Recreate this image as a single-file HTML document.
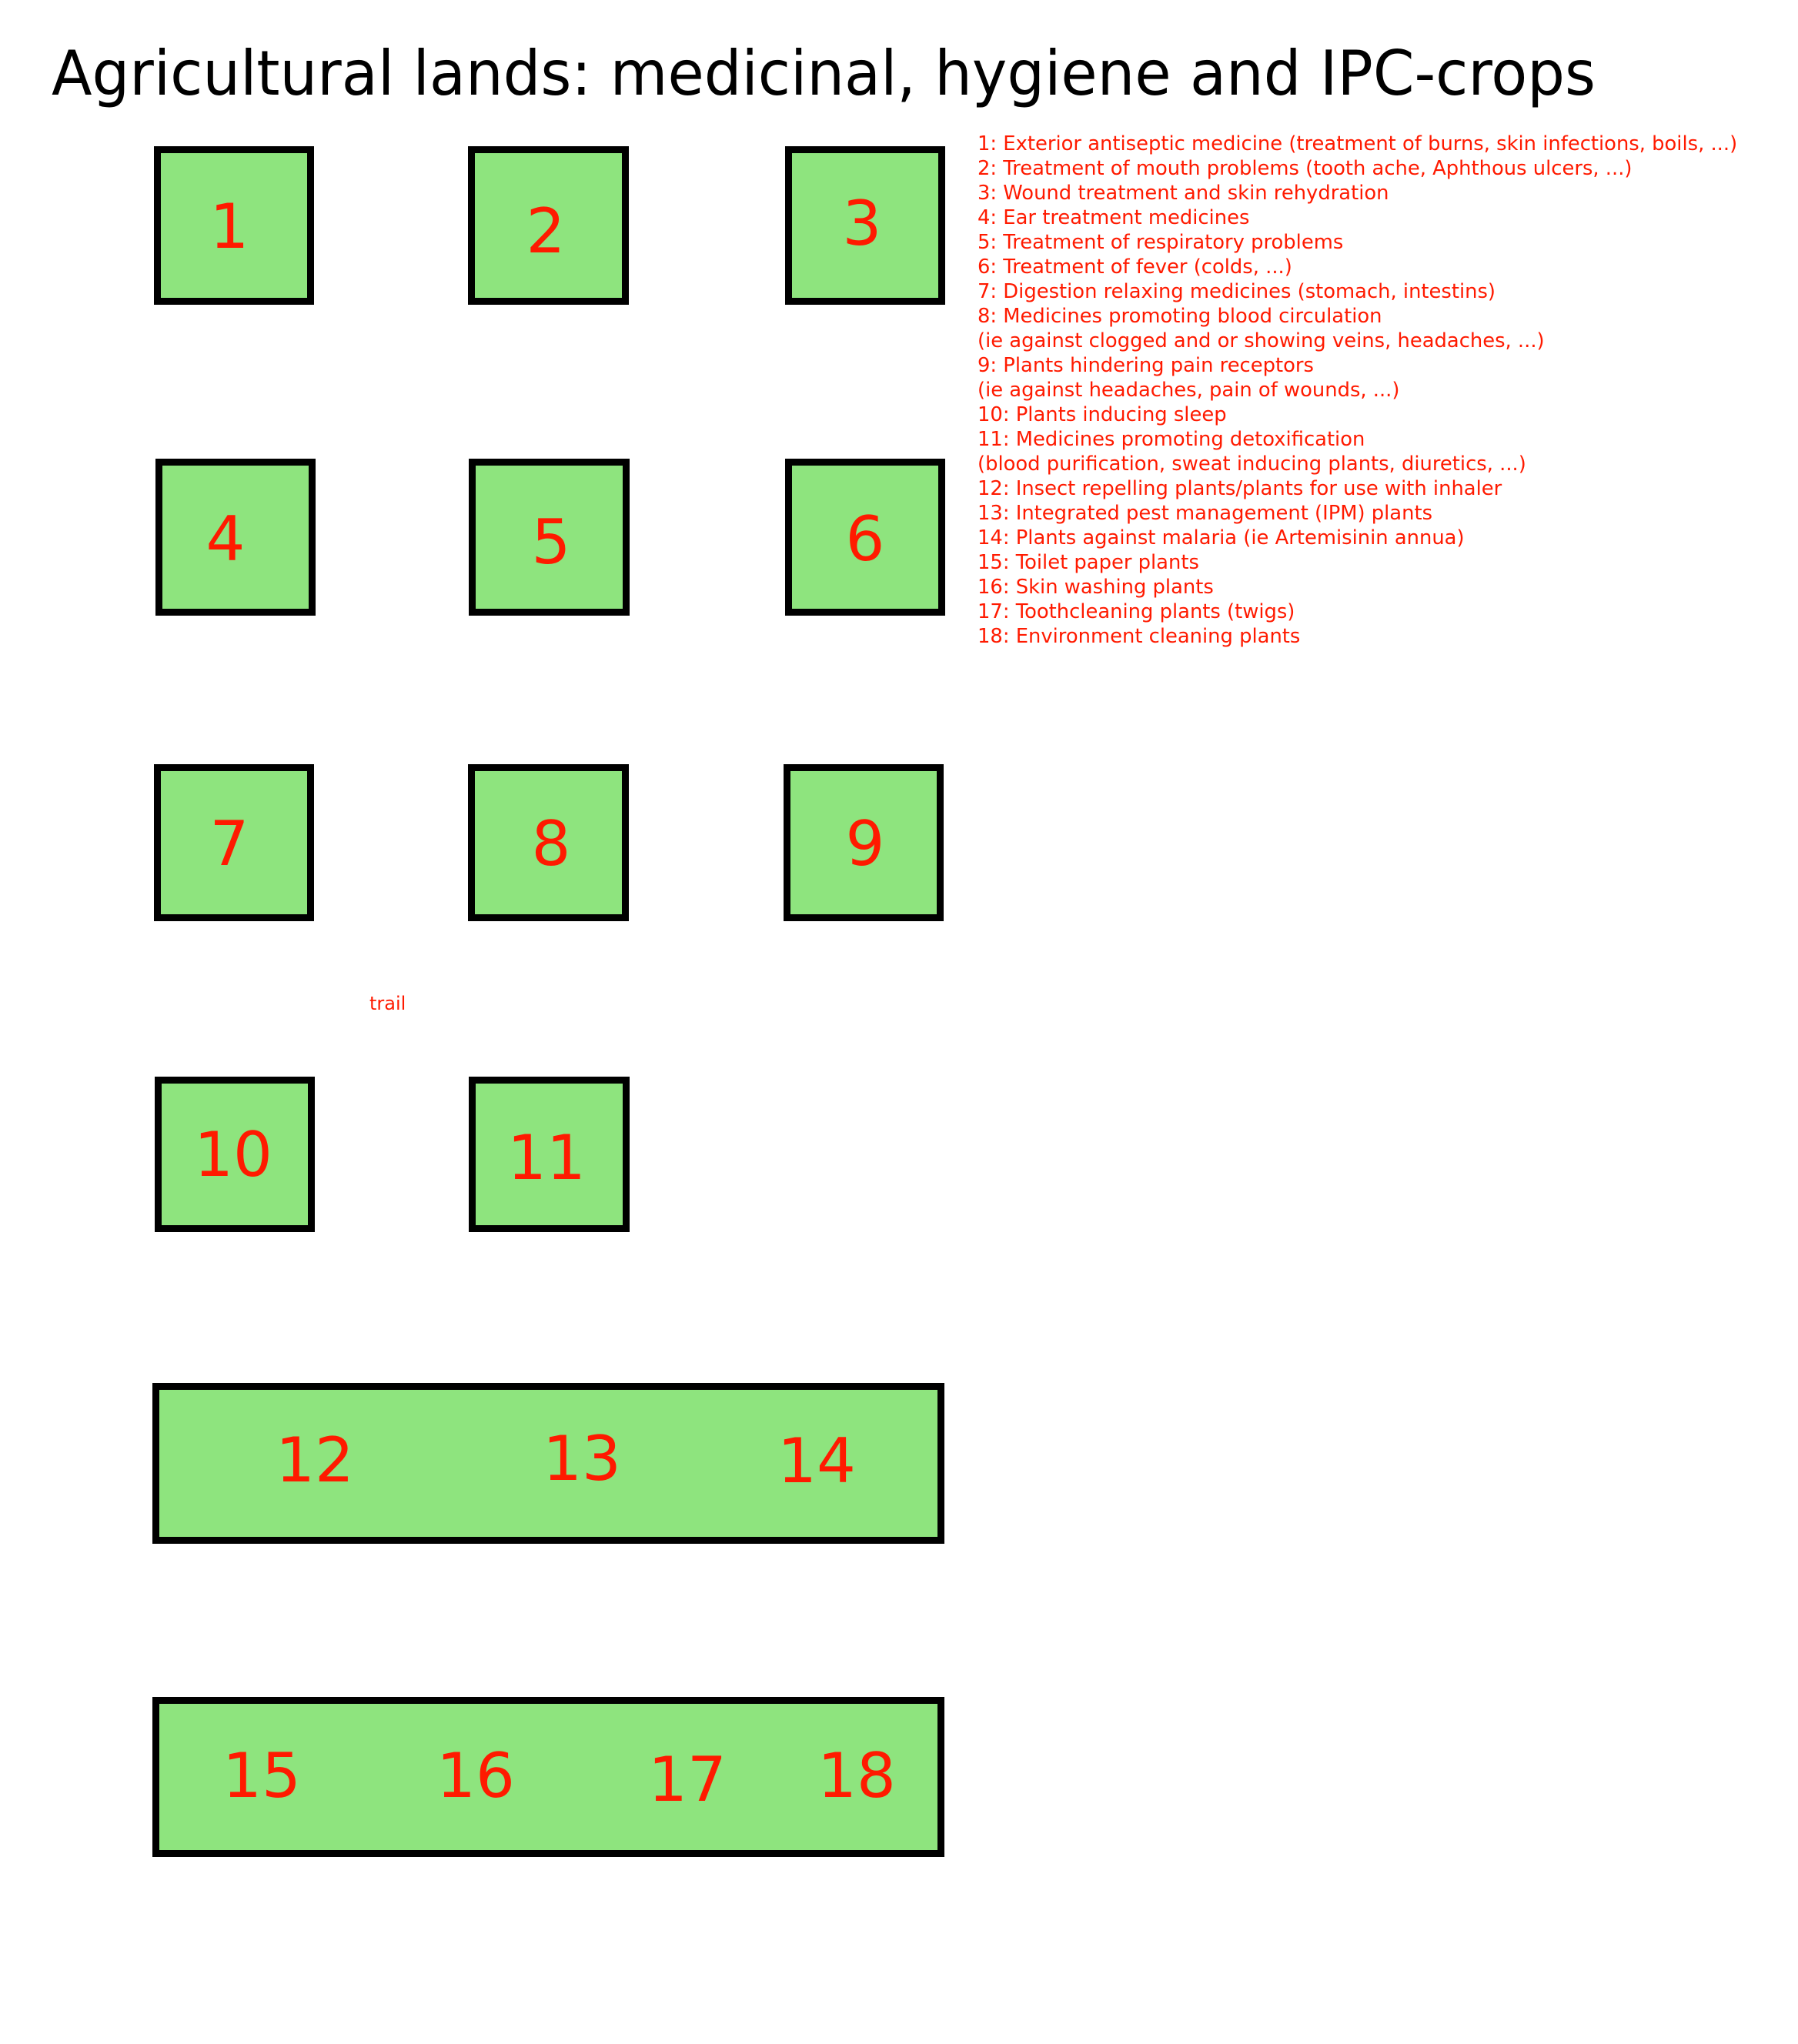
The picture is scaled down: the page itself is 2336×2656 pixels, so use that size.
<!DOCTYPE html>
<html><head><meta charset="utf-8"><style>
html,body{margin:0;padding:0;background:#fff;}
svg{display:block;}
</style></head><body>
<svg width="2336" height="2656" viewBox="0 0 2336 2656" xmlns="http://www.w3.org/2000/svg" font-family="DejaVu Sans, Liberation Sans, sans-serif">
<rect width="2336" height="2656" fill="#fff"/>
<text x="67" y="123" font-size="80" fill="#000" textLength="2006" lengthAdjust="spacingAndGlyphs">Agricultural lands: medicinal, hygiene and IPC-crops</text>
<g fill="#8ee47e" stroke="#000" stroke-width="9">
<rect x="204.5" y="194.5" width="199" height="197"/>
<rect x="612.5" y="194.5" width="200" height="197"/>
<rect x="1024.5" y="194.5" width="199" height="197"/>
<rect x="206.5" y="600.5" width="199" height="195"/>
<rect x="613.5" y="600.5" width="200" height="195"/>
<rect x="1024.5" y="600.5" width="199" height="195"/>
<rect x="204.5" y="997.5" width="199" height="195"/>
<rect x="612.5" y="997.5" width="200" height="195"/>
<rect x="1022.5" y="997.5" width="199" height="195"/>
<rect x="205.5" y="1403.5" width="199" height="193"/>
<rect x="613.5" y="1403.5" width="200" height="193"/>
<rect x="202.5" y="1801.5" width="1020" height="200"/>
<rect x="202.5" y="2209.5" width="1020" height="199"/>
</g>
<g fill="#ff1a00" font-size="80" text-anchor="middle">
<text x="298" y="322">1</text>
<text x="709" y="328">2</text>
<text x="1120" y="318">3</text>
<text x="293" y="728">4</text>
<text x="716" y="732">5</text>
<text x="1124" y="728">6</text>
<text x="298" y="1124">7</text>
<text x="716" y="1124">8</text>
<text x="1124" y="1124">9</text>
<text x="303" y="1528">10</text>
<text x="710" y="1532">11</text>
<text x="409" y="1925">12</text>
<text x="756" y="1923">13</text>
<text x="1061" y="1926">14</text>
<text x="340" y="2335">15</text>
<text x="618" y="2335">16</text>
<text x="893" y="2340">17</text>
<text x="1113" y="2335">18</text>
</g>
<text x="480" y="1312" font-size="24" fill="#ff1a00">trail</text>
<g fill="#ff1a00" font-size="25.8">
<text x="1270" y="195">1: Exterior antiseptic medicine (treatment of burns, skin infections, boils, ...)</text>
<text x="1270" y="227">2: Treatment of mouth problems (tooth ache, Aphthous ulcers, ...)</text>
<text x="1270" y="259">3: Wound treatment and skin rehydration</text>
<text x="1270" y="291">4: Ear treatment medicines</text>
<text x="1270" y="323">5: Treatment of respiratory problems</text>
<text x="1270" y="355">6: Treatment of fever (colds, ...)</text>
<text x="1270" y="387">7: Digestion relaxing medicines (stomach, intestins)</text>
<text x="1270" y="419">8: Medicines promoting blood circulation</text>
<text x="1270" y="451">(ie against clogged and or showing veins, headaches, ...)</text>
<text x="1270" y="483">9: Plants hindering pain receptors</text>
<text x="1270" y="515">(ie against headaches, pain of wounds, ...)</text>
<text x="1270" y="547">10: Plants inducing sleep</text>
<text x="1270" y="579">11: Medicines promoting detoxification</text>
<text x="1270" y="611">(blood purification, sweat inducing plants, diuretics, ...)</text>
<text x="1270" y="643">12: Insect repelling plants/plants for use with inhaler</text>
<text x="1270" y="675">13: Integrated pest management (IPM) plants</text>
<text x="1270" y="707">14: Plants against malaria (ie Artemisinin annua)</text>
<text x="1270" y="739">15: Toilet paper plants</text>
<text x="1270" y="771">16: Skin washing plants</text>
<text x="1270" y="803">17: Toothcleaning plants (twigs)</text>
<text x="1270" y="835">18: Environment cleaning plants</text>
</g>
</svg>
</body></html>
